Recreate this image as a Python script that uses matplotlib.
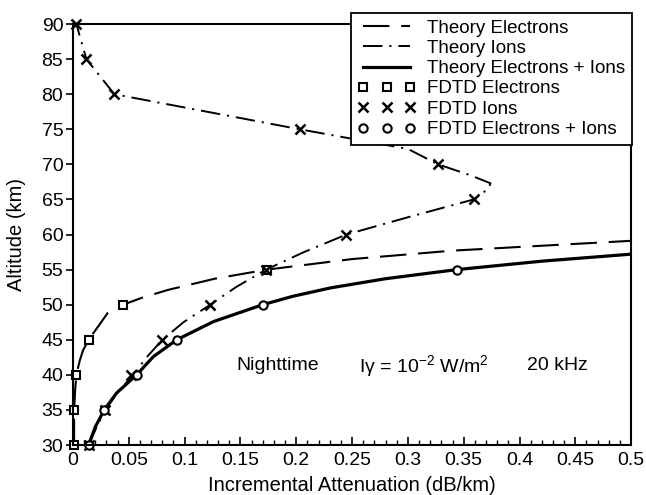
import matplotlib
matplotlib.use("Agg")
import matplotlib.pyplot as plt
from matplotlib.ticker import MultipleLocator, FuncFormatter

plt.rcParams['font.family'] = ['Liberation Sans', 'DejaVu Sans']
plt.rcParams['mathtext.fontset'] = 'custom'
plt.rcParams['mathtext.rm'] = 'Liberation Sans'
plt.rcParams['mathtext.default'] = 'rm'
plt.rcParams['lines.scale_dashes'] = False

# theory curves (altitude km, attenuation dB/km)
theory_e_alt = [30, 32, 35, 38, 40, 42, 43.5, 45, 47, 48.8, 50, 51, 52.1, 53.7, 55, 56.5, 57.7, 59.1]
theory_e = [0.001, 0.001, 0.001, 0.002, 0.003, 0.006, 0.009, 0.014, 0.023, 0.031, 0.045,
            0.062, 0.085, 0.127, 0.174, 0.25, 0.34, 0.5]

theory_i_alt = [30, 32.5, 35, 37.5, 40, 42.5, 45, 47.5, 50, 52.5, 55, 57.5, 60, 62.5, 65,
                66.5, 67.3, 68.5, 70, 72.2, 75, 77.5, 80, 85, 90]
theory_i = [0.014, 0.021, 0.029, 0.040, 0.054, 0.066, 0.080, 0.099, 0.123, 0.146, 0.173,
            0.207, 0.245, 0.301, 0.359, 0.372, 0.374, 0.355, 0.327, 0.300, 0.203, 0.12,
            0.037, 0.012, 0.003]

theory_ei_alt = [30, 32.6, 35, 37.4, 40, 42.6, 45, 47.6, 50, 51.2, 52.4, 53.7, 55, 56.2, 57.2]
theory_ei = [0.014, 0.020, 0.028, 0.039, 0.057, 0.072, 0.093, 0.126, 0.17, 0.197, 0.231,
             0.28, 0.344, 0.42, 0.5]

# FDTD samples
fdtd_alt = [30, 35, 40, 45, 50, 55]
fdtd_e = [0.001, 0.001, 0.003, 0.014, 0.045, 0.174]
fdtd_ei = [0.014, 0.028, 0.057, 0.093, 0.170, 0.344]
fdtd_i_alt = [30, 35, 40, 45, 50, 55, 60, 65, 70, 75, 80, 85, 90]
fdtd_i = [0.014, 0.029, 0.052, 0.080, 0.123, 0.173, 0.245, 0.359, 0.327, 0.203, 0.037, 0.012, 0.003]

fig = plt.figure(figsize=(6.46, 4.95), dpi=100)
ax = fig.add_axes([0.113, 0.101, 0.864, 0.8505])

ax.plot(theory_e, theory_e_alt, color='black', lw=1.5, ls=(0, (19, 8.5)), label='Theory Electrons')
ax.plot(theory_i, theory_i_alt, color='black', lw=1.4, ls=(0, (14, 5, 1.5, 5)), label='Theory Ions')
ax.plot(theory_ei, theory_ei_alt, color='black', lw=2.3, label='Theory Electrons + Ions')

ax.plot(fdtd_e, fdtd_alt, ls='none', marker='s', ms=6, mfc='white', mec='black', mew=1.5,
        label='FDTD Electrons', clip_on=False)
ax.plot(fdtd_i, fdtd_i_alt, ls='none', marker='x', ms=7, mec='black', mew=1.8,
        label='FDTD Ions', clip_on=False)
ax.plot(fdtd_ei, fdtd_alt, ls='none', marker='o', ms=6, mfc='white', mec='black', mew=1.5,
        label='FDTD Electrons + Ions', clip_on=False)

ax.set_xlim(0, 0.5)
ax.set_ylim(30, 90)
ax.xaxis.set_major_locator(MultipleLocator(0.05))
ax.xaxis.set_minor_locator(MultipleLocator(0.01))
ax.yaxis.set_major_locator(MultipleLocator(5))
ax.xaxis.set_major_formatter(FuncFormatter(lambda v, p: '%g' % round(v, 2)))
ax.tick_params(axis='x', which='both', direction='in', labelsize=14, pad=5)
ax.tick_params(axis='x', which='major', length=6, width=1.2)
ax.tick_params(axis='x', which='minor', length=3.5, width=1.0)
ax.tick_params(axis='y', direction='out', length=5, width=1.2, labelsize=14, pad=2)
for s in ax.spines.values():
    s.set_linewidth(1.5)

ax.set_xlabel('Incremental Attenuation (dB/km)', fontsize=14.5)
ax.set_ylabel('Altitude (km)', fontsize=14.5)
ax.xaxis.set_label_coords(0.5, -0.074)
ax.yaxis.set_label_coords(-0.084, 0.5)

ax.text(0.183, 41.3, 'Nighttime', fontsize=14, ha='center', va='center')
ax.text(0.256, 41.3, 'I\u03b3 = 10$^{-2}$ W/m$^{2}$', fontsize=14, ha='left', va='center')
ax.text(0.407, 41.3, '20 kHz', fontsize=14, ha='left', va='center')

leg = ax.legend(loc='upper right', bbox_to_anchor=(0.978, 0.974), bbox_transform=fig.transFigure,
                fontsize=13.5, numpoints=3, fancybox=False, framealpha=1, edgecolor='black',
                borderaxespad=0, handlelength=3.1, handletextpad=0.6, labelspacing=0.17,
                borderpad=0.35)
leg.get_frame().set_linewidth(1.3)

fig.savefig('out.png', dpi=100)
